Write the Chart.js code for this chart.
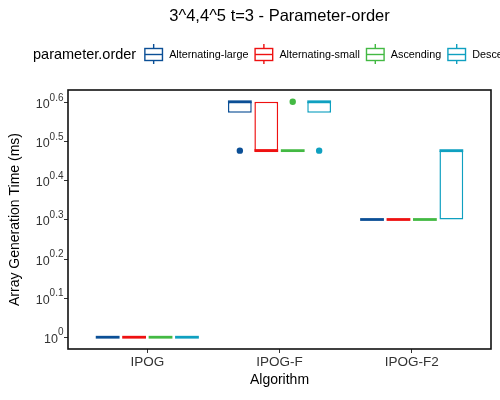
<!DOCTYPE html>
<html>
<head>
<meta charset="utf-8">
<script src="https://cdn.jsdelivr.net/npm/chart.js@4.4.0/dist/chart.umd.min.js"></script>
<style>
  html, body { margin: 0; padding: 0; background: #fff; }
  #wrap { width: 500px; height: 400px; }
</style>
</head>
<body>
<div id="wrap"><canvas id="grafica"></canvas></div>
<script>
const algorithms = ['IPOG', 'IPOG-F', 'IPOG-F2'];
const orders = ['Alternating-large', 'Alternating-small', 'Ascending', 'Descending'];
const colors = ['#0b4f96', '#ee1111', '#43b943', '#0fa0c0'];

// array generation time (ms), one row per parameter order, one entry per algorithm
const q1Values = [[1, 3.75, 2], [1, 3, 2], [1, 3, 2], [1, 3.75, 2]];
const medianValues = [[1, 4, 2], [1, 3, 2], [1, 3, 2], [1, 4, 3]];
const q3Values = [[1, 4, 2], [1, 4, 2], [1, 3, 2], [1, 4, 3]];
const outlierValues = [[[], [3], []], [[], [], []], [[], [4], []], [[], [3], []]];

// log10 tick positions
const yTickExponents = [0, 0.1, 0.2, 0.3, 0.4, 0.5, 0.6];

const FONT = '"Liberation Sans", Arial, sans-serif';
const dodge = 0.8;
const lg = v => Math.log10(v);

const allVals = q1Values.flat().concat(q3Values.flat(), outlierValues.flat(2)).map(lg);
const yMin = Math.min(...allVals), yMax = Math.max(...allVals);
const yPad = (yMax - yMin) * 0.05;

const boxSets = orders.map((o, k) => ({
  type: 'bar',
  label: o,
  data: algorithms.map((a, i) => ({ x: i + 1, y: [lg(q1Values[k][i]), lg(q3Values[k][i])] })),
  backgroundColor: '#ffffff',
  borderColor: colors[k],
  borderWidth: 1.5,
  borderSkipped: false,
  categoryPercentage: dodge,
  barPercentage: 0.9,
  order: 2
}));

const outlierSets = orders.map((o, k) => {
  const pts = [];
  algorithms.forEach((a, i) => {
    outlierValues[k][i].forEach(v => {
      pts.push({ x: i + 1 + (k - (orders.length - 1) / 2) * dodge / orders.length, y: lg(v) });
    });
  });
  return {
    type: 'scatter',
    label: o + ' outliers',
    data: pts,
    backgroundColor: colors[k],
    borderWidth: 0,
    pointRadius: 3.2,
    order: 1
  };
});

const boxPlugin = {
  id: 'boxExtras',
  afterDatasetsDraw(chart) {
    const ctx = chart.ctx;
    const ys = chart.scales.y;
    ctx.save();
    ctx.lineCap = 'butt';
    orders.forEach((o, k) => {
      const meta = chart.getDatasetMeta(k);
      meta.data.forEach((bar, i) => {
        const p = bar.getProps(['x', 'width'], true);
        const y = ys.getPixelForValue(lg(medianValues[k][i]));
        ctx.strokeStyle = colors[k];
        ctx.lineWidth = 2.8;
        ctx.beginPath();
        ctx.moveTo(p.x - p.width / 2, y);
        ctx.lineTo(p.x + p.width / 2, y);
        ctx.stroke();
      });
    });
    ctx.restore();
  },
  afterDraw(chart) {
    const ctx = chart.ctx;
    const a = chart.chartArea;
    const ys = chart.scales.y;
    ctx.save();
    // panel border
    ctx.strokeStyle = '#111';
    ctx.lineWidth = 1.6;
    ctx.strokeRect(a.left, a.top, a.right - a.left, a.bottom - a.top);

    // y tick labels as 10^x
    ctx.fillStyle = '#333333';
    ctx.textBaseline = 'alphabetic';
    ys.ticks.forEach(t => {
      const y = ys.getPixelForValue(t.value);
      const sup = String(Math.round(t.value * 10) / 10);
      ctx.font = '10px ' + FONT;
      const sw = ctx.measureText(sup).width;
      const right = a.left - 4.5;
      ctx.textAlign = 'right';
      ctx.fillText(sup, right, y - 2);
      ctx.font = '12.5px ' + FONT;
      ctx.fillText('10', right - sw, y + 5.5);
    });

    // title
    ctx.fillStyle = '#000';
    ctx.textAlign = 'center';
    ctx.font = '16.5px ' + FONT;
    ctx.fillText('3^4,4^5 t=3 - Parameter-order', (a.left + a.right) / 2, 21);

    // legend
    ctx.textAlign = 'left';
    ctx.textBaseline = 'middle';
    ctx.font = '14.5px ' + FONT;
    const title = 'parameter.order';
    let x = 33;
    ctx.fillText(title, x, 55);
    x += ctx.measureText(title).width + 8;
    ctx.font = '10.8px ' + FONT;
    orders.forEach((o, k) => {
      ctx.strokeStyle = colors[k];
      ctx.lineWidth = 1.4;
      const cx = x + 9.5;
      ctx.beginPath();
      ctx.moveTo(cx, 44); ctx.lineTo(cx, 48.5);
      ctx.moveTo(cx, 60.5); ctx.lineTo(cx, 64);
      ctx.stroke();
      ctx.strokeRect(x + 0.7, 48.5, 17.6, 12);
      ctx.beginPath();
      ctx.moveTo(x + 0.7, 54.5); ctx.lineTo(x + 18.3, 54.5);
      ctx.stroke();
      ctx.fillText(o, x + 25, 55);
      x += 25 + ctx.measureText(o).width + 6;
    });
    ctx.restore();
  }
};

new Chart(document.getElementById('grafica'), {
  type: 'bar',
  data: { datasets: boxSets.concat(outlierSets) },
  options: {
    responsive: true,
    maintainAspectRatio: false,
    animation: false,
    layout: { padding: { left: 0, right: 9, top: 90, bottom: 0 } },
    plugins: { legend: { display: false }, tooltip: { enabled: false } },
    scales: {
      x: {
        type: 'linear',
        min: 0.4,
        max: 3.6,
        offset: false,
        afterBuildTicks: s => { s.ticks = algorithms.map((a, i) => ({ value: i + 1 })); },
        afterFit: s => { s.height = 51; },
        ticks: {
          callback: (v, i) => algorithms[i],
          color: '#333333',
          font: { family: FONT, size: 13.5 },
          padding: 1,
          maxRotation: 0,
          autoSkip: false
        },
        grid: { display: true, offset: false, drawOnChartArea: false, drawTicks: true, tickLength: 4, tickColor: '#333', tickWidth: 1 },
        border: { display: false },
        title: { display: true, text: 'Algorithm', color: '#000', font: { family: FONT, size: 14 }, padding: { top: 0, bottom: 11 } }
      },
      y: {
        type: 'linear',
        min: yMin - yPad,
        max: yMax + yPad,
        afterBuildTicks: s => { s.ticks = yTickExponents.map(v => ({ value: v })); },
        afterFit: s => { s.width = 68; },
        ticks: { display: false },
        grid: { display: true, drawOnChartArea: false, drawTicks: true, tickLength: 4, tickColor: '#333', tickWidth: 1 },
        border: { display: false },
        title: { display: true, text: 'Array Generation Time (ms)', color: '#000', font: { family: FONT, size: 14 }, padding: { top: 7, bottom: 0 } }
      }
    }
  },
  plugins: [boxPlugin]
});
</script>
</body>
</html>
